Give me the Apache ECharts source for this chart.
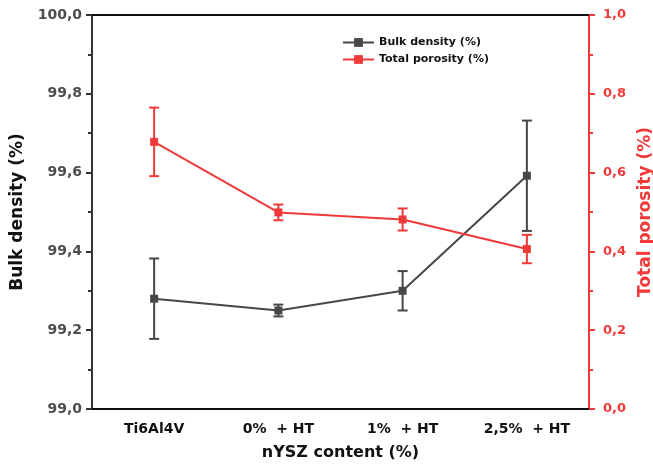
<!DOCTYPE html>
<html>
<head>
<meta charset="utf-8">
<script src="https://cdn.jsdelivr.net/npm/echarts@6/dist/echarts.min.js"></script>
<style>
  html, body { margin: 0; padding: 0; background: #fff; }
  #chart { width: 653px; height: 474px; }
</style>
</head>
<body>
<div id="chart"></div>
<script>
// data
var categories = ['Ti6Al4V', '0%  + HT', '1%  + HT', '2,5%  + HT'];
var bulkDensity = [99.28, 99.25, 99.30, 99.592];
var bulkDensityErr = [0.102, 0.015, 0.05, 0.14];
var porosity = [0.678, 0.499, 0.481, 0.406];
var porosityErr = [0.087, 0.02, 0.028, 0.036];

var GRAY = '#474747';
var RED = '#f03a3a';
var FONT = 'DejaVu Sans';

function comma(v) {
    return v.toFixed(1).replace('.', ',');
}

function errorBars(values, errs, color, axisIdx) {
    var data = values.map(function (v, i) { return [i, v - errs[i], v + errs[i]]; });
    return {
        type: 'custom',
        name: 'err' + axisIdx,
        yAxisIndex: axisIdx,
        z: 1,
        silent: true,
        data: data,
        renderItem: function (params, api) {
            var x = api.value(0);
            var lo = api.coord([x, api.value(1)]);
            var hi = api.coord([x, api.value(2)]);
            var hw = 5;
            var style = { stroke: color, lineWidth: 2, fill: null };
            return {
                type: 'group',
                children: [
                    { type: 'line', shape: { x1: hi[0], y1: hi[1], x2: lo[0], y2: lo[1] }, style: style },
                    { type: 'line', shape: { x1: hi[0] - hw, y1: hi[1], x2: hi[0] + hw, y2: hi[1] }, style: style },
                    { type: 'line', shape: { x1: lo[0] - hw, y1: lo[1], x2: lo[0] + hw, y2: lo[1] }, style: style }
                ]
            };
        }
    };
}

var chart = echarts.init(document.getElementById('chart'));
chart.setOption({
    animation: false,
    grid: { left: 92, right: 64, top: 15, bottom: 65, outerBoundsMode: 'none', containLabel: false },
    legend: {
        data: ['Bulk density (%)', 'Total porosity (%)'],
        orient: 'vertical',
        left: 337,
        top: 32,
        itemWidth: 31,
        itemHeight: 11,
        itemGap: 6,
        textStyle: { fontFamily: FONT, fontWeight: 'bold', fontSize: 11, color: '#111' }
    },
    xAxis: [{
        type: 'category',
        data: categories,
        position: 'bottom',
        axisLine: { lineStyle: { color: '#111', width: 2 } },
        axisTick: { alignWithLabel: true, length: 6, lineStyle: { color: '#333', width: 2 } },
        axisLabel: { fontFamily: FONT, fontWeight: 'bold', fontSize: 14, color: '#111', margin: 13 },
        name: 'nYSZ content (%)',
        nameLocation: 'middle',
        nameGap: 36,
        nameTextStyle: { fontFamily: FONT, fontWeight: 'bold', fontSize: 16, color: '#111' }
    }, {
        type: 'category',
        data: categories,
        position: 'bottom',
        axisLine: { show: false },
        axisTick: { length: 3, lineStyle: { color: '#333', width: 2 } },
        axisLabel: { show: false }
    }, {
        type: 'category',
        data: categories,
        position: 'top',
        axisLine: { lineStyle: { color: '#111', width: 2 } },
        axisTick: { show: false },
        axisLabel: { show: false }
    }],
    yAxis: [{
        type: 'value',
        min: 99.0,
        max: 100.0,
        interval: 0.2,
        position: 'left',
        splitLine: { show: false },
        axisLine: { show: true, lineStyle: { color: '#333', width: 2 } },
        axisTick: { show: true, length: 6, lineStyle: { color: '#333', width: 2 } },
        minorTick: { show: true, splitNumber: 2, length: 4, lineStyle: { color: '#333', width: 2 } },
        axisLabel: {
            fontFamily: FONT, fontWeight: 'bold', fontSize: 14, color: '#4d4d4d', margin: 10,
            formatter: function (v) { return comma(v); }
        },
        name: 'Bulk density (%)',
        nameLocation: 'middle',
        nameGap: 66,
        nameTextStyle: { fontFamily: FONT, fontWeight: 'bold', fontSize: 17, color: '#111' }
    }, {
        type: 'value',
        min: 0,
        max: 1.0,
        interval: 0.2,
        position: 'right',
        splitLine: { show: false },
        axisLine: { show: true, lineStyle: { color: RED, width: 2 } },
        axisTick: { show: true, length: 6, lineStyle: { color: RED, width: 2 } },
        minorTick: { show: true, splitNumber: 2, length: 4, lineStyle: { color: RED, width: 2 } },
        axisLabel: {
            fontFamily: FONT, fontWeight: 'bold', fontSize: 13, color: RED, margin: 14,
            formatter: function (v) { return comma(v); }
        },
        name: 'Total porosity (%)',
        nameLocation: 'middle',
        nameGap: 43,
        nameRotate: 90,
        nameTextStyle: { fontFamily: FONT, fontWeight: 'bold', fontSize: 17, color: RED }
    }],
    series: [
        errorBars(bulkDensity, bulkDensityErr, GRAY, 0),
        errorBars(porosity, porosityErr, RED, 1),
        {
            name: 'Bulk density (%)',
            type: 'line',
            yAxisIndex: 0,
            data: bulkDensity,
            symbol: 'rect',
            symbolSize: 8,
            z: 3,
            itemStyle: { color: GRAY },
            lineStyle: { color: GRAY, width: 2 }
        },
        {
            name: 'Total porosity (%)',
            type: 'line',
            yAxisIndex: 1,
            data: porosity,
            symbol: 'rect',
            symbolSize: 8,
            z: 3,
            itemStyle: { color: RED },
            lineStyle: { color: RED, width: 2 }
        }
    ]
});
</script>
</body>
</html>
